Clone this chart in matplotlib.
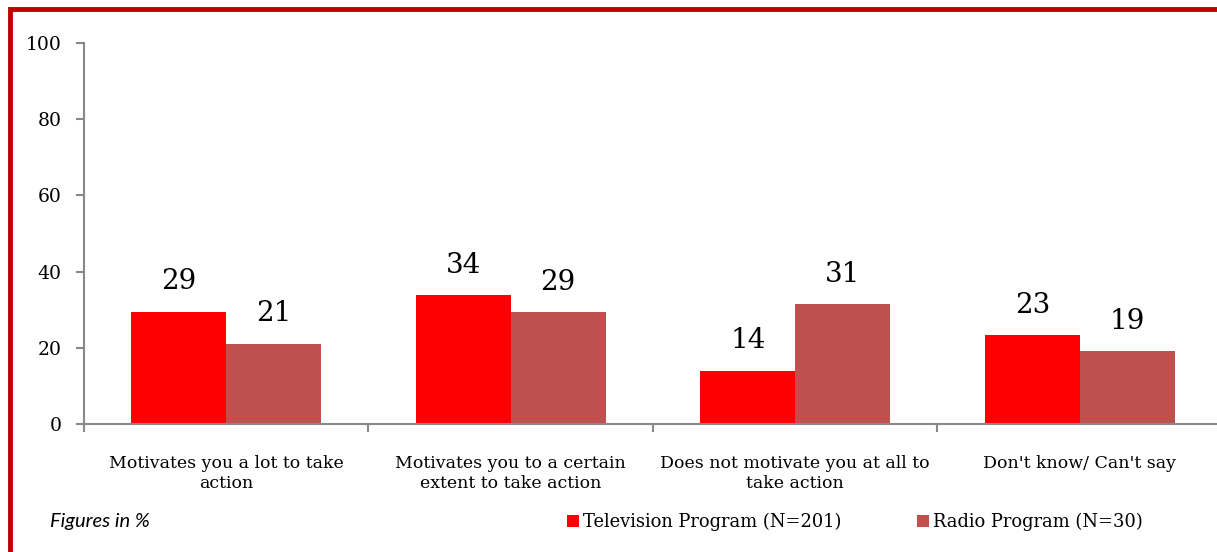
import matplotlib
matplotlib.use("Agg")
import matplotlib.pyplot as plt
from matplotlib.patches import Rectangle
import numpy as np

categories = ["Motivates you a lot to take\naction",
              "Motivates you to a certain\nextent to take action",
              "Does not motivate you at all to\ntake action",
              "Don't know/ Can't say"]
tv_values = [29.4, 33.8, 13.9, 23.3]
radio_values = [21.0, 29.3, 31.4, 19.1]
series_names = ["Television Program (N=201)", "Radio Program (N=30)"]
y_ticks = [0, 20, 40, 60, 80, 100]

TV_COLOR = "#FF0000"
RADIO_COLOR = "#C0504D"
SERIF = "DejaVu Serif"

fig = plt.figure(figsize=(12.17, 5.52), dpi=100)
ax = fig.add_axes([84 / 1217, 128 / 552, 1138 / 1217, 381 / 552])

x = np.arange(len(categories))
w = 1 / 3
b1 = ax.bar(x - w / 2, tv_values, w, color=TV_COLOR, label=series_names[0])
b2 = ax.bar(x + w / 2, radio_values, w, color=RADIO_COLOR, label=series_names[1])

for bars in (b1, b2):
    for bar in bars:
        h = bar.get_height()
        ax.annotate(f"{h:.0f}", (bar.get_x() + bar.get_width() / 2, h),
                    xytext=(0, 12), textcoords="offset points",
                    ha="center", va="bottom", fontsize=20, family=SERIF)

ax.set_xlim(-0.5, 3.5)
ax.set_ylim(0, 100)
ax.set_yticks(y_ticks)
ax.set_yticklabels([str(t) for t in y_ticks], family=SERIF, fontsize=13.5)
ax.set_xticks(x)
ax.set_xticklabels(categories, family=SERIF, fontsize=12.5, linespacing=1.3)
ax.set_xticks(np.arange(-0.5, 3.6, 1), minor=True)
ax.tick_params(axis="x", which="major", length=0, pad=22)
ax.tick_params(axis="x", which="minor", length=6, color="#888888", width=1.5)
ax.tick_params(axis="y", length=6, color="#888888", width=1.5, pad=10)

for s in ["top", "right"]:
    ax.spines[s].set_visible(False)
for s in ["left", "bottom"]:
    ax.spines[s].set_color("#888888")
    ax.spines[s].set_linewidth(1.5)

fig.legend(handles=[b1, b2], labels=series_names, loc="center left",
           bbox_to_anchor=(551 / 1217, 30 / 552), ncol=2, frameon=False,
           prop={"family": SERIF, "size": 12.9}, handlelength=0.65,
           handleheight=0.65, handletextpad=0.25, columnspacing=4.2)

fig.text(50 / 1217, 30 / 552, "Figures in %", style="italic", family="Lato",
         fontsize=14.5, va="center", ha="left")

fig.add_artist(Rectangle((10 / 1217, -0.1), 1.2, 0.1 + 543 / 552,
                         transform=fig.transFigure, fill=False,
                         edgecolor="#C00000", linewidth=3.5))

fig.savefig("out.png", dpi=100)
